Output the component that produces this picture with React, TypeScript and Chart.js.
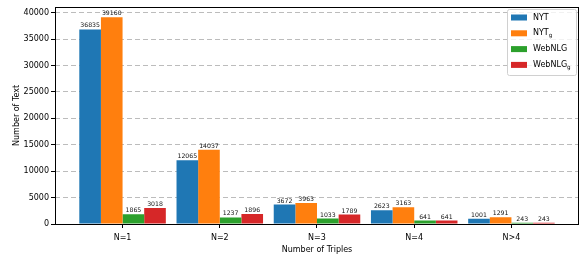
import React, { useEffect, useRef } from "react";
import { Chart, registerables } from "chart.js";

Chart.register(...registerables);

const categories = ["N=1", "N=2", "N=3", "N=4", "N>4"];
const nyt = [36835, 12065, 3672, 2623, 1001];
const nytG = [39160, 14037, 3963, 3163, 1291];
const webnlg = [1865, 1237, 1033, 641, 243];
const webnlgG = [3018, 1896, 1789, 641, 243];
const yTicks = [0, 5000, 10000, 15000, 20000, 25000, 30000, 35000, 40000];

const seriesNames = [
  { base: "NYT", sub: "" },
  { base: "NYT", sub: "g" },
  { base: "WebNLG", sub: "" },
  { base: "WebNLG", sub: "g" },
];
const colors = ["#1f77b4", "#ff7f0e", "#2ca02c", "#d62728"];
const seriesValues = [nyt, nytG, webnlg, webnlgG];

const FONT = "'DejaVu Sans', sans-serif";

const valueLabels = {
  id: "valueLabels",
  afterDatasetsDraw(chart: any) {
    const ctx = chart.ctx;
    ctx.save();
    ctx.font = `6.2px ${FONT}`;
    ctx.fillStyle = "#111";
    ctx.textAlign = "center";
    ctx.textBaseline = "bottom";
    chart.data.datasets.forEach((ds: any, di: number) => {
      const meta = chart.getDatasetMeta(di);
      meta.data.forEach((bar: any, i: number) => {
        ctx.fillText(String(ds.data[i].y), bar.x, bar.y - 0.5);
      });
    });
    ctx.restore();
  },
};

const frameAndLegend = {
  id: "frameAndLegend",
  afterDraw(chart: any) {
    const ctx = chart.ctx;
    const a = chart.chartArea;
    ctx.save();
    ctx.strokeStyle = "#000";
    ctx.lineWidth = 1;
    ctx.strokeRect(
      Math.round(a.left) + 0.5,
      Math.round(a.top) + 0.5,
      Math.round(a.right) - Math.round(a.left) - 1,
      Math.round(a.bottom) - Math.round(a.top)
    );
    // legend
    const bx = 507.5, by = 9.5, bw = 69, bh = 66;
    ctx.beginPath();
    const r = 2;
    ctx.moveTo(bx + r, by);
    ctx.lineTo(bx + bw - r, by);
    ctx.quadraticCurveTo(bx + bw, by, bx + bw, by + r);
    ctx.lineTo(bx + bw, by + bh - r);
    ctx.quadraticCurveTo(bx + bw, by + bh, bx + bw - r, by + bh);
    ctx.lineTo(bx + r, by + bh);
    ctx.quadraticCurveTo(bx, by + bh, bx, by + bh - r);
    ctx.lineTo(bx, by + r);
    ctx.quadraticCurveTo(bx, by, bx + r, by);
    ctx.closePath();
    ctx.fillStyle = "rgba(255,255,255,0.8)";
    ctx.fill();
    ctx.strokeStyle = "#d0d0d0";
    ctx.stroke();
    seriesNames.forEach((s, i) => {
      const cy = 17.5 + i * 15.8;
      ctx.fillStyle = colors[i];
      ctx.fillRect(511, cy - 3, 16, 6);
      ctx.fillStyle = "#000";
      ctx.font = `8px ${FONT}`;
      ctx.textAlign = "left";
      ctx.textBaseline = "middle";
      ctx.fillText(s.base, 533, cy);
      if (s.sub) {
        const w = ctx.measureText(s.base).width;
        ctx.font = `5.6px ${FONT}`;
        ctx.fillText(s.sub, 533 + w, cy + 2.5);
      }
    });
    ctx.restore();
  },
};

export default function App() {
  const ref = useRef<HTMLCanvasElement>(null);
  useEffect(() => {
    document.body.style.margin = "0";
    const canvas = ref.current!;
    const chart = new Chart(canvas, {
      type: "bar",
      data: {
        datasets: seriesValues.map((vals, di) => ({
          label: seriesNames[di].base + seriesNames[di].sub,
          data: vals.map((v, i) => ({ x: i, y: v })),
          backgroundColor: colors[di],
          borderWidth: 0,
          categoryPercentage: 0.89,
          barPercentage: 1.0,
        })),
      },
      options: {
        responsive: false,
        devicePixelRatio: 1,
        animation: false,
        layout: { padding: { left: 0, right: 5, top: 5, bottom: 0 } },
        plugins: {
          legend: { display: false },
          tooltip: { enabled: false },
        },
        scales: {
          x: {
            type: "linear",
            offset: false,
            bounds: "data",
            min: -0.695,
            max: 4.695,
            afterBuildTicks: (scale: any) => {
              scale.ticks = categories.map((_, i) => ({ value: i }));
            },
            afterFit: (scale: any) => {
              scale.height = 36;
            },
            ticks: {
              callback: (v: any) => categories[Math.round(Number(v))] ?? "",
              font: { family: FONT, size: 8 },
              color: "#000",
              padding: 5,
              autoSkip: false,
              maxRotation: 0,
            },
            grid: {
              offset: false,
              drawOnChartArea: false,
              drawTicks: true,
              tickLength: 4,
              tickColor: "#000",
            },
            border: { display: false },
            title: {
              display: true,
              text: "Number of Triples",
              font: { family: FONT, size: 8 },
              color: "#000",
              padding: { top: 1, bottom: 5 },
            },
          },
          y: {
            type: "linear",
            min: 0,
            max: 41118,
            afterBuildTicks: (scale: any) => {
              scale.ticks = yTicks.map((v) => ({ value: v }));
            },
            afterFit: (scale: any) => {
              scale.width = 55;
            },
            ticks: {
              font: { family: FONT, size: 8 },
              color: "#000",
              padding: 2,
              callback: (v: any) => String(v),
            },
            grid: {
              color: "rgba(176,176,176,0.85)",
              lineWidth: 1,
              drawTicks: true,
              tickLength: 4,
              tickColor: "#000",
              tickBorderDash: [],
            },
            border: { display: false, dash: [5, 3] },
            title: {
              display: true,
              text: "Number of Text",
              font: { family: FONT, size: 8 },
              color: "#000",
              padding: { top: 12, bottom: 0 },
            },
          },
        },
      },
      plugins: [valueLabels, frameAndLegend],
    });
    return () => chart.destroy();
  }, []);
  return <canvas ref={ref} width={584} height={260} style={{ display: "block" }} />;
}
